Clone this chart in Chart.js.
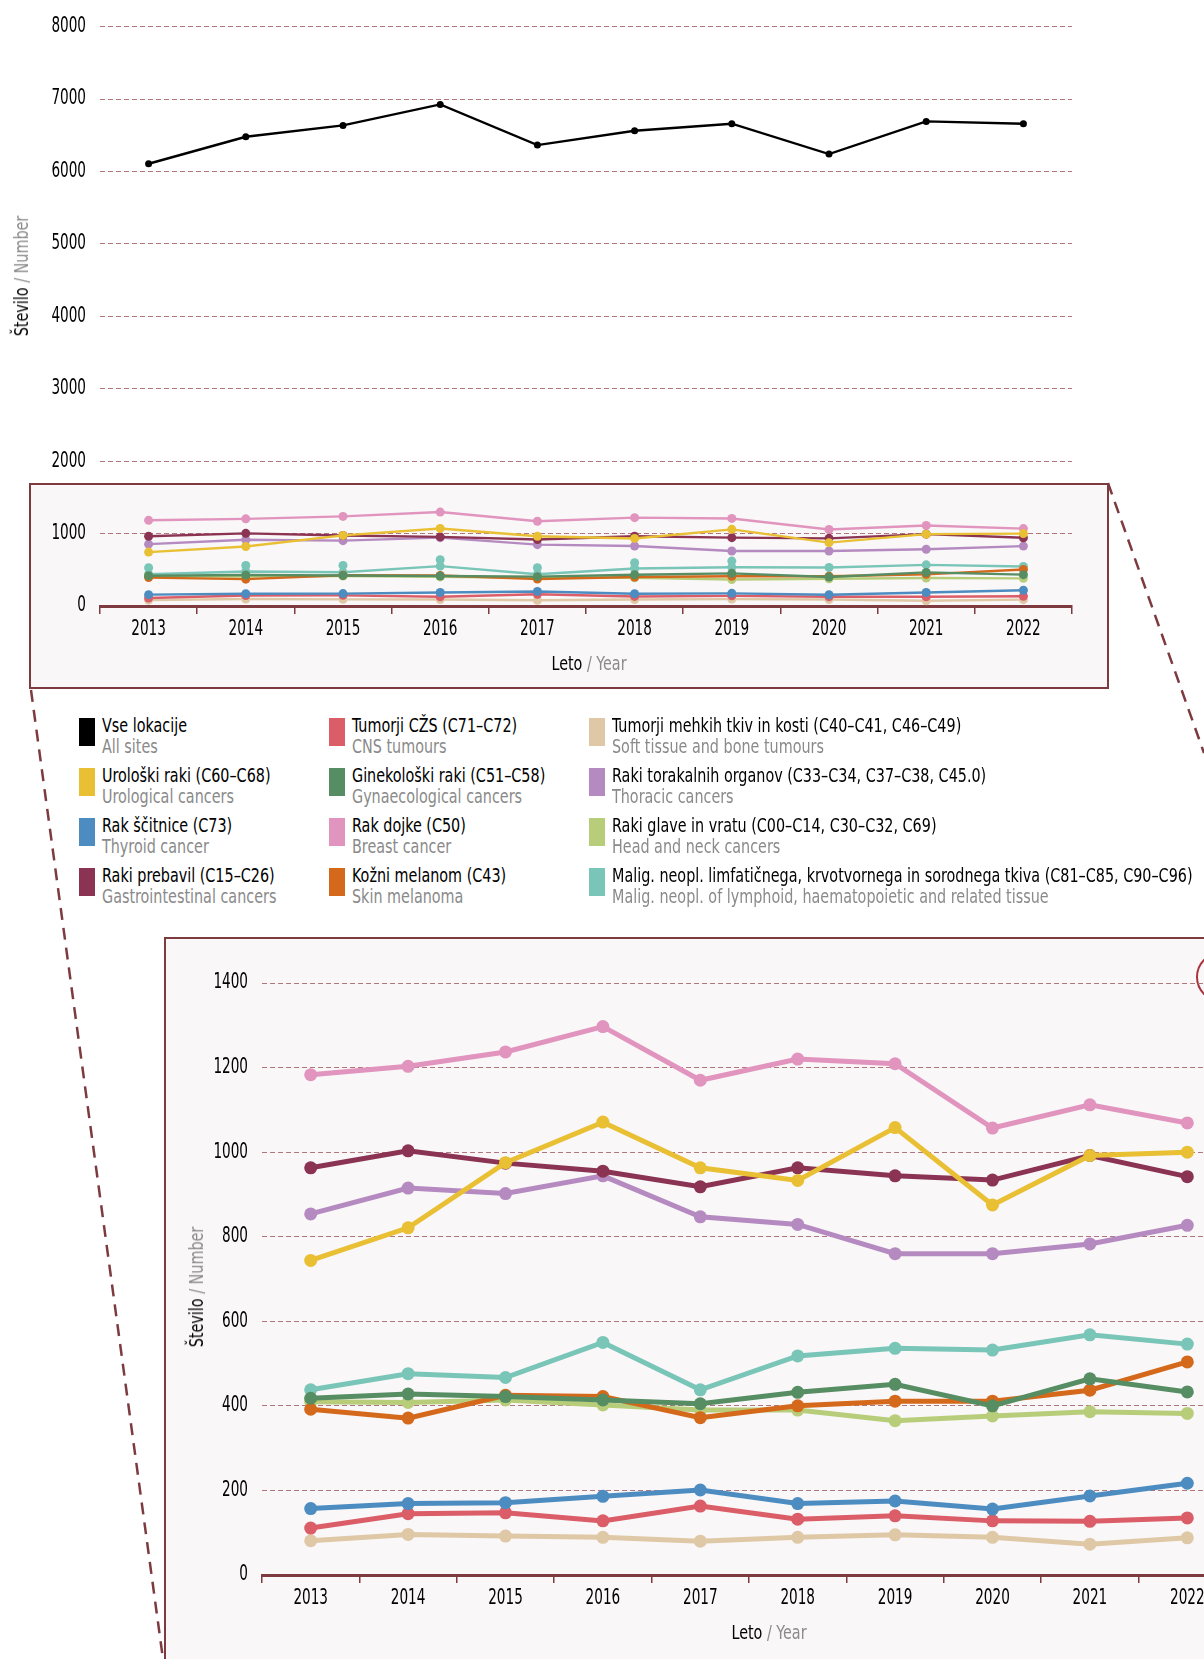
<!DOCTYPE html>
<html lang="sl">
<head>
<meta charset="UTF-8">
<title>Število primerov raka</title>
<script src="https://cdn.jsdelivr.net/npm/chart.js"></script>
<style>
    html, body {
        margin: 0;
        padding: 0;
        background: #fff;
    }
    body {
        position: relative;
        width: 1204px;
        height: 1659px;
        overflow: hidden;
        font-family: "DejaVu Sans Condensed", "DejaVu Sans", sans-serif;
    }
    .frame {
        position: absolute;
        background: #f9f7f8;
        border: 2.5px solid #7d3b40;
        box-sizing: border-box;
    }
    canvas {
        position: absolute;
    }
    .title {
        position: absolute;
        font-size: 19px;
        color: #000;
        white-space: nowrap;
    }
    .title span {
        color: #8a8a8a;
    }
    .rot {
        transform: translate(-50%, -50%) rotate(-90deg) scaleX(0.84);
    }
    .hor {
        transform: translate(-50%, -50%) scaleX(0.84);
    }
    .sq {
        position: absolute;
        width: 16px;
        height: 28px;
    }
    .leg {
        position: absolute;
        font-size: 19px;
        line-height: 21px;
        white-space: nowrap;
        transform: scaleX(0.84);
        transform-origin: left top;
    }
    .leg .en {
        color: #8a8a8a;
    }
    #lines {
        position: absolute;
        left: 0;
        top: 0;
    }
</style>
</head>
<body>

<div class="frame" style="left:29px; top:483px; width:1080px; height:206px;"></div>
<div class="frame" style="left:164px; top:937px; width:1200px; height:900px;"></div>
<div style="position:absolute; left:1196px; top:952px; width:46px; height:46px; border:2px solid #a8343c; border-radius:50%;"></div>

<canvas id="topChart" width="1100" height="690" style="left:0; top:0;"></canvas>
<canvas id="zoomChart" width="1100" height="722" style="left:164px; top:937px;"></canvas>

<div class="title rot" style="left:21px; top:276px;">Število <span>/ Number</span></div>
<div class="title hor" style="left:589px; top:663px;">Leto <span>/ Year</span></div>
<div class="title rot" style="left:196px; top:1287px;">Število <span>/ Number</span></div>
<div class="title hor" style="left:769px; top:1632px;">Leto <span>/ Year</span></div>

<div id="legend"></div>

<svg id="lines" width="1204" height="1659">
    <line x1="31" y1="690" x2="163" y2="1659" stroke="#7d3b40" stroke-width="2.5" stroke-dasharray="12 8"/>
    <line x1="1108" y1="483" x2="1204" y2="753" stroke="#7d3b40" stroke-width="2.5" stroke-dasharray="12 8"/>
</svg>

<script>
    const years = ['2013', '2014', '2015', '2016', '2017', '2018', '2019', '2020', '2021', '2022'];

    // Število primerov po skupinah
    const allSites       = [6106, 6479, 6636, 6926, 6364, 6562, 6659, 6240, 6691, 6659];
    const urological     = [744, 821, 975, 1071, 963, 933, 1058, 875, 992, 1000];
    const thyroid        = [157, 169, 171, 186, 201, 169, 175, 156, 187, 217];
    const gastro         = [963, 1003, 974, 955, 918, 963, 944, 934, 992, 942];
    const cns            = [111, 145, 147, 128, 163, 132, 140, 128, 127, 135];
    const gynaecological = [418, 428, 422, 414, 405, 432, 451, 400, 464, 433];
    const breast         = [1183, 1203, 1237, 1297, 1170, 1220, 1209, 1057, 1112, 1069];
    const skinMelanoma   = [392, 371, 425, 422, 372, 400, 411, 411, 437, 504];
    const softTissue     = [81, 96, 92, 89, 80, 89, 95, 89, 73, 88];
    const thoracic       = [854, 915, 902, 944, 847, 829, 760, 760, 783, 827];
    const headNeck       = [410, 408, 414, 402, 390, 390, 365, 376, 386, 382];
    const lymphoid       = [438, 476, 467, 550, 438, 518, 536, 532, 568, 546];
    // loose dots above the lymphoid line in the top chart
    const lymphoidDots   = [528, 560, 560, 639, 528, 597, 620, null, null, null];

    const topTicks = [0, 1000, 2000, 3000, 4000, 5000, 6000, 7000, 8000];
    const zoomTicks = [0, 200, 400, 600, 800, 1000, 1200, 1400];

    const labelsSl = [
        'Vse lokacije', 'Urološki raki (C60–C68)', 'Rak ščitnice (C73)', 'Raki prebavil (C15–C26)',
        'Tumorji CŽS (C71–C72)', 'Ginekološki raki (C51–C58)', 'Rak dojke (C50)', 'Kožni melanom (C43)',
        'Tumorji mehkih tkiv in kosti (C40–C41, C46–C49)', 'Raki torakalnih organov (C33–C34, C37–C38, C45.0)',
        'Raki glave in vratu (C00–C14, C30–C32, C69)', 'Malig. neopl. limfatičnega, krvotvornega in sorodnega tkiva (C81–C85, C90–C96)'
    ];
    const labelsEn = [
        'All sites', 'Urological cancers', 'Thyroid cancer', 'Gastrointestinal cancers',
        'CNS tumours', 'Gynaecological cancers', 'Breast cancer', 'Skin melanoma',
        'Soft tissue and bone tumours', 'Thoracic cancers',
        'Head and neck cancers', 'Malig. neopl. of lymphoid, haematopoietic and related tissue'
    ];
    const colors = [
        '#000000', '#e9bf34', '#4d8cc0', '#8b3352',
        '#da5d68', '#578d62', '#e194bd', '#d4691b',
        '#dfc8a6', '#b58ac0', '#b7cd79', '#79c5b7'
    ];
    const series = [
        allSites, urological, thyroid, gastro,
        cns, gynaecological, breast, skinMelanoma,
        softTissue, thoracic, headNeck, lymphoid
    ];

    // legend (3 columns, 4 rows)
    const legendCols = [102, 352, 612];
    const legend = document.getElementById('legend');
    labelsSl.forEach((label, i) => {
        const x = legendCols[Math.floor(i / 4)];
        const y = 715 + (i % 4) * 50;
        const sq = document.createElement('div');
        sq.className = 'sq';
        sq.style.left = (x - 23) + 'px';
        sq.style.top = (y + 3) + 'px';
        sq.style.background = colors[i];
        legend.appendChild(sq);
        const div = document.createElement('div');
        div.className = 'leg';
        div.style.left = x + 'px';
        div.style.top = y + 'px';
        div.innerHTML = label + '<div class="en">' + labelsEn[i] + '</div>';
        legend.appendChild(div);
    });

    const frameColor = '#7d3b40';
    const gridColor = '#b3767d';
    const tickFont = { family: '"DejaVu Sans Condensed", "DejaVu Sans", sans-serif', size: 21 };

    // the original tick labels use a narrow face: squeeze the canvas text around its anchor
    const narrowText = {
        id: 'narrowText',
        beforeInit(chart) {
            const ctx = chart.ctx;
            const fill = ctx.fillText.bind(ctx);
            ctx.fillText = (text, x, y) => {
                ctx.save();
                ctx.translate(x, y);
                ctx.scale(0.72, 1);
                fill(text, 0, 0);
                ctx.restore();
            };
        }
    };

    const makeScales = (ticks, yWidth, xHeight) => ({
        x: {
            offset: true,
            grid: {
                offset: true,
                drawOnChartArea: false,
                drawTicks: true,
                tickLength: 8,
                color: frameColor,
                lineWidth: 1.5
            },
            border: { display: true, color: frameColor, width: 3 },
            ticks: { color: '#000', padding: 3, font: tickFont },
            afterFit: (s) => { s.height = xHeight; }
        },
        y: {
            min: ticks[0],
            max: ticks[ticks.length - 1],
            afterBuildTicks: (s) => { s.ticks = ticks.map(v => ({ value: v })); },
            grid: { color: gridColor, lineWidth: 1, drawTicks: false },
            border: { display: false, dash: [5, 3] },
            ticks: { color: '#000', padding: 14, font: tickFont, callback: (v) => String(v) },
            afterFit: (s) => { s.width = yWidth; }
        }
    });

    const lineSet = (data, color, width, radius) => ({
        data: data,
        borderColor: color,
        backgroundColor: color,
        borderWidth: width,
        pointRadius: radius,
        pointBorderWidth: 0,
        pointBackgroundColor: color,
        tension: 0
    });

    // top chart: all groups on the 0-8000 scale
    const topSets = series.map((d, i) => lineSet(d, colors[i], i === 0 ? 2.4 : 2.4, i === 0 ? 3.5 : 4.5));
    topSets.push(Object.assign(lineSet(lymphoidDots, colors[11], 0, 4.5), { showLine: false }));

    new Chart(document.getElementById('topChart'), {
        type: 'line',
        data: { labels: years, datasets: topSets },
        options: {
            responsive: false,
            animation: false,
            layout: { padding: { top: 25, right: 28, left: 0, bottom: 0 } },
            plugins: { legend: { display: false }, tooltip: { enabled: false } },
            scales: makeScales(topTicks, 100, 84)
        },
        plugins: [narrowText]
    });

    // enlarged chart: groups without "All sites"
    const zoomSets = series.slice(1).map((d, i) => lineSet(d, colors[i + 1], 5, 6.5));

    new Chart(document.getElementById('zoomChart'), {
        type: 'line',
        data: { labels: years, datasets: zoomSets },
        options: {
            responsive: false,
            animation: false,
            layout: { padding: { top: 46, right: 28, left: 0, bottom: 0 } },
            plugins: { legend: { display: false }, tooltip: { enabled: false } },
            scales: makeScales(zoomTicks, 98, 84)
        },
        plugins: [narrowText]
    });
</script>
</body>
</html>
